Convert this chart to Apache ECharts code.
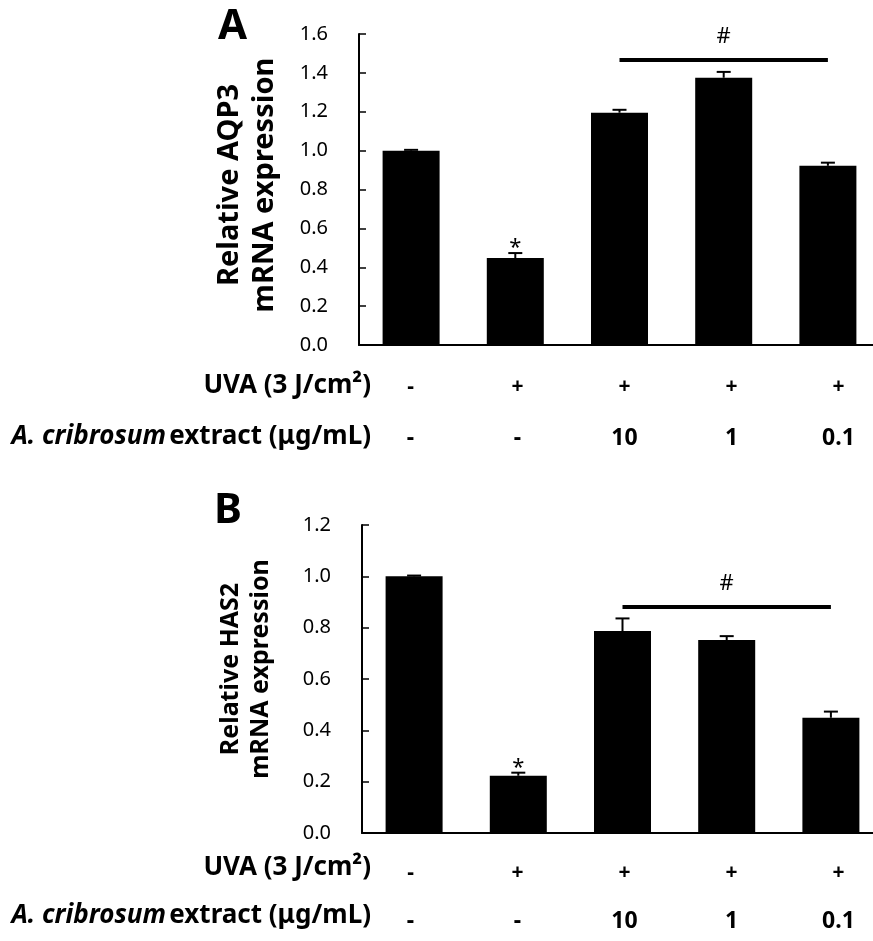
<!DOCTYPE html>
<html>
<head>
<meta charset="utf-8">
<script src="https://cdn.jsdelivr.net/npm/echarts@6/dist/echarts.min.js"></script>
<style>
  html, body { margin: 0; padding: 0; background: #fff; }
  #chart { width: 873px; height: 941px; }
</style>
</head>
<body>
<div id="chart"></div>
<script>
// treatment rows under the x axis
var uvaRow = ["-", "+", "+", "+", "+"];
var extractRow = ["-", "-", "10", "1", "0.1"];
var groups = ["g1", "g2", "g3", "g4", "g5"];

// panel A: AQP3
var aqp3Values = [1.0, 0.447, 1.195, 1.375, 0.922];
var aqp3Errors = [0.004, 0.026, 0.015, 0.03, 0.016];
var aqp3Stars = ["", "*", "", "", ""];
var aqp3Sig = { from: 2, to: 4, level: 1.466, text: "#" };

// panel B: HAS2
var has2Values = [1.0, 0.223, 0.787, 0.752, 0.449];
var has2Errors = [0.003, 0.012, 0.049, 0.015, 0.024];
var has2Stars = ["", "*", "", "", ""];
var has2Sig = { from: 2, to: 4, level: 0.88, text: "#" };

var FONT = "Noto Sans";
var myChart = echarts.init(document.getElementById("chart"));

function xAxisFor(gridIndex) {
  return {
    type: "category",
    gridIndex: gridIndex,
    data: groups,
    axisLine: { lineStyle: { color: "#000", width: 2 } },
    axisTick: { inside: true, length: 7, interval: 0, lineStyle: { color: "#000", width: 1.5 } },
    axisLabel: { show: false }
  };
}

// the treatment table under each panel is spaced a little wider than the bars
function labelAxisFor(gridIndex, margin, lh) {
  return {
    type: "category",
    gridIndex: gridIndex,
    data: groups,
    axisLine: { show: false },
    axisTick: { show: false },
    axisLabel: {
      interval: 0,
      margin: margin,
      formatter: function (v, i) {
        return "{u|" + uvaRow[i] + "}\n{e|" + extractRow[i] + "}";
      },
      rich: {
        u: { fontFamily: FONT, fontSize: 21, fontWeight: "bold", color: "#000", lineHeight: lh },
        e: { fontFamily: FONT, fontSize: 23, fontWeight: "bold", color: "#000", lineHeight: lh }
      }
    }
  };
}

function yAxisFor(gridIndex, max, name, nameSize, nameGap, nameLh, shift) {
  return {
    type: "value",
    gridIndex: gridIndex,
    min: 0,
    max: max,
    interval: 0.2,
    splitLine: { show: false },
    axisLine: { show: true, lineStyle: { color: "#000", width: 2 } },
    axisTick: { show: true, inside: true, length: 7, lineStyle: { color: "#000", width: 1.5 } },
    axisLabel: {
      margin: 31,
      color: "#000",
      fontFamily: FONT,
      fontSize: 20,
      formatter: function (v) { return v.toFixed(1); }
    },
    name: name,
    nameLocation: "middle",
    nameRotate: 90,
    nameGap: nameGap,
    nameTextStyle: {
      fontFamily: FONT,
      fontSize: nameSize,
      fontWeight: "bold",
      color: "#000",
      lineHeight: nameLh,
      padding: [0, 0, 0, shift]
    }
  };
}

function hiddenY(gridIndex) {
  return { type: "value", gridIndex: gridIndex, show: false, min: 0, max: 1 };
}

function barSeries(idx, values, sig) {
  return {
    type: "bar",
    xAxisIndex: idx,
    yAxisIndex: idx,
    data: values,
    barWidth: 57,
    itemStyle: { color: "#000" },
    markLine: {
      silent: true,
      symbol: "none",
      lineStyle: { color: "#000", width: 4, type: "solid" },
      label: {
        show: true,
        position: "middle",
        formatter: sig.text,
        color: "#000",
        fontFamily: FONT,
        fontSize: 22,
        distance: 12
      },
      data: [[{ coord: [sig.from, sig.level] }, { coord: [sig.to, sig.level] }]]
    }
  };
}

function errorSeries(idx, values, errors, stars) {
  return {
    type: "custom",
    xAxisIndex: idx,
    yAxisIndex: idx,
    z: 5,
    data: values.map(function (v, i) { return [i, v, errors[i]]; }),
    renderItem: function (params, api) {
      var i = api.value(0);
      var base = api.coord([i, api.value(1)]);
      var top = api.coord([i, api.value(1) + api.value(2)]);
      var children = [
        { type: "line", shape: { x1: base[0], y1: base[1], x2: top[0], y2: top[1] }, style: { stroke: "#000", lineWidth: 2 } },
        { type: "line", shape: { x1: top[0] - 7, y1: top[1], x2: top[0] + 7, y2: top[1] }, style: { stroke: "#000", lineWidth: 2 } }
      ];
      if (stars[i]) {
        children.push({
          type: "text",
          x: top[0],
          y: top[1] - 5,
          style: { text: stars[i], align: "center", verticalAlign: "middle", fontFamily: FONT, fontSize: 22, fill: "#000" }
        });
      }
      return { type: "group", children: children };
    }
  };
}

function rowTitles(y1, y2) {
  return [
    {
      type: "text", x: 371, y: y1,
      style: { text: "UVA (3 J/cm\u00b2)", fontFamily: FONT, fontSize: 26, fontWeight: "bold", fill: "#000", align: "right", verticalAlign: "middle" }
    },
    {
      type: "text", x: 371, y: y2,
      style: {
        text: "{i|A. cribrosum} {n|extract (\u03bcg/mL)}",
        align: "right",
        verticalAlign: "middle",
        rich: {
          i: { fontFamily: FONT, fontSize: 26, fontWeight: "bold", fontStyle: "italic", fill: "#000" },
          n: { fontFamily: FONT, fontSize: 26, fontWeight: "bold", fill: "#000" }
        }
      }
    }
  ];
}

var option = {
  animation: false,
  grid: [
    { left: 359, top: 34, width: 521, height: 311, outerBoundsMode: "none" },
    { left: 362, top: 525, width: 521, height: 308, outerBoundsMode: "none" },
    { left: 357, top: 344, width: 535, height: 1, outerBoundsMode: "none" },
    { left: 357, top: 832, width: 535, height: 1, outerBoundsMode: "none" }
  ],
  xAxis: [xAxisFor(0), xAxisFor(1), labelAxisFor(2, 17, 51), labelAxisFor(3, 16, 48)],
  yAxis: [
    yAxisFor(0, 1.6, "Relative AQP3\nmRNA expression", 29, 77, 35, 9),
    yAxisFor(1, 1.2, "Relative HAS2\nmRNA expression", 25, 86, 30, 20),
    hiddenY(2),
    hiddenY(3)
  ],
  series: [
    barSeries(0, aqp3Values, aqp3Sig),
    errorSeries(0, aqp3Values, aqp3Errors, aqp3Stars),
    barSeries(1, has2Values, has2Sig),
    errorSeries(1, has2Values, has2Errors, has2Stars)
  ],
  graphic: [
    { type: "text", left: 218, top: 6, style: { text: "A", fontFamily: FONT, fontSize: 42, fontWeight: "bold", fill: "#000" } },
    { type: "text", left: 214, top: 490, style: { text: "B", fontFamily: FONT, fontSize: 42, fontWeight: "bold", fill: "#000" } }
  ].concat(rowTitles(386, 437), rowTitles(868, 916))
};

myChart.setOption(option);
</script>
</body>
</html>
